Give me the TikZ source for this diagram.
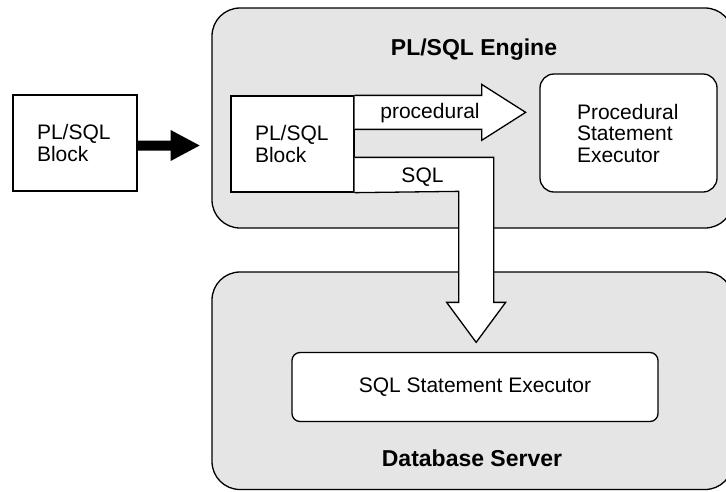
\documentclass[tikz,border=0pt]{standalone}
\usepackage{fontspec}
\setmainfont{Liberation Sans}
\usetikzlibrary{calc}
\definecolor{panel}{HTML}{E5E5E5}
\begin{document}
\begin{tikzpicture}[x=1pt,y=-1pt,
  lw/.style={line width=1.3pt},
  panelbox/.style={draw, lw, fill=panel, rounded corners=28pt, inner sep=0pt},
  plainbox/.style={draw, lw, fill=white, inner sep=0pt, font=\fontsize{21}{21.5}\selectfont},
  title/.style={font=\bfseries\fontsize{23}{25}\selectfont, inner sep=0pt, anchor=base},
  lbl/.style={font=\fontsize{21}{21.5}\selectfont, inner sep=0pt, anchor=base},
  hollow/.style={draw, lw, fill=white, line join=miter}]
\useasboundingbox (0,0) rectangle (726,491);
\begin{scope}
  \clip (0,0) rectangle (726,491);
  \node[panelbox, minimum width=521pt, minimum height=220pt] (engine) at (472.5,118) {};
  \node[panelbox, minimum width=521pt, minimum height=217.5pt] (db) at (472.5,380.75) {};
\end{scope}
\node[title] (engtitle) at (474,55) {PL/SQL Engine};
\node[title] (dbtitle) at (472,466) {Database Server};
\node[plainbox, text width=76pt, inner xsep=24pt, minimum height=96pt, align=left] (outer) at (75,143) {PL/SQL\\Block};
\node[plainbox, text width=75pt, inner xsep=24pt, minimum height=96pt, align=left] (block) at (292.5,144) {PL/SQL\\Block};
\node[plainbox, rounded corners=14pt, text width=103pt, inner xsep=37pt, minimum height=118pt, align=left] (proc) at (628.5,133) {Procedural\\Statement\\Executor};
\node[plainbox, rounded corners=8pt, minimum width=366pt, minimum height=69pt] (sqlexec) at (475,387) {SQL Statement Executor};
% black input arrow
\fill ($(outer.east)+(0,-2.5)$) -- ++(33,0) -- ++(0,-10.5) -- ++(29,15.5) -- ++(-29,15.5) -- ++(0,-10.5) -- ++(-33,0) -- cycle;
% procedural arrow
\draw[hollow] (block.north east) -- ++(127,0) -- ++(0,-11) -- ++(44,28) -- ++(-44,28) -- ++(0,-11) -- ($(block.north east)+(0,34)$);
\node[lbl] (proclbl) at (430,118.5) {procedural};
% SQL arrow
\draw[hollow] ($(block.north east)+(0,62)$) -- ++(139,0) -- ++(0,145) -- ++(12,0) -- ++(-29.5,40) -- ++(-29.5,-40) -- ++(12,0) -- ++(0,-111) -- (block.south east);
\node[lbl] (sqllbl) at (422.5,182) {SQL};
\end{tikzpicture}
\end{document}
